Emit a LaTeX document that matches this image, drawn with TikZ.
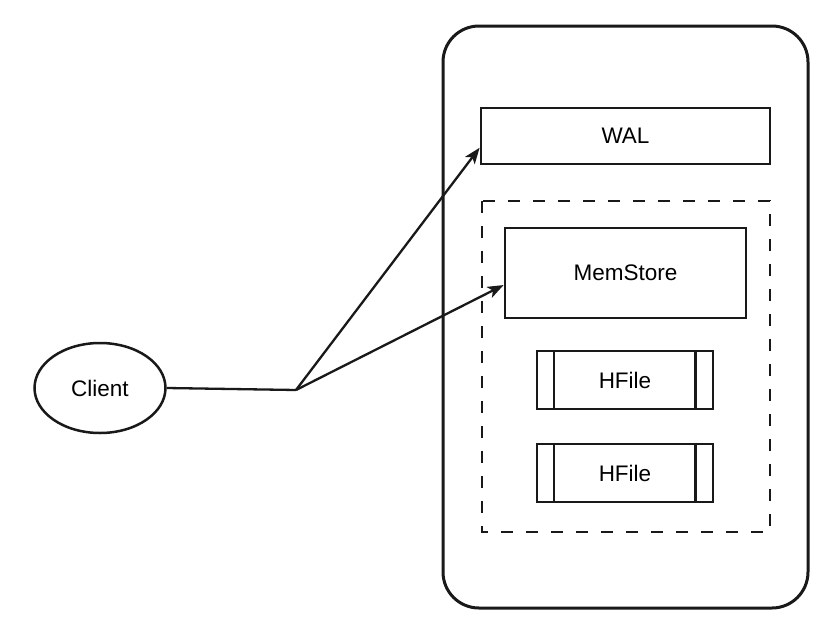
\documentclass[tikz,border=0pt]{standalone}
\usepackage{fontspec}
\setmainfont{Liberation Sans}
\usetikzlibrary{shapes.geometric,arrows.meta,calc}
\begin{document}
\begin{tikzpicture}[x=1pt,y=-1pt,
  box/.style={draw=black!90,line width=2.8pt,inner sep=0pt,font=\fontsize{22.5}{26}\selectfont},
  conn/.style={draw=black!90,line width=2.3pt},
  arr/.style={conn,-{Stealth[length=16pt,width=12pt,inset=4pt]}},
  dashbox/.style={draw=black!90,line width=2.5pt,dash pattern=on 12pt off 13pt}]
\useasboundingbox (0,0) rectangle (836,624);
\fill[white] (0,0) rectangle (836,624);
% outer server
\draw[line width=3pt,draw=black!90,rounded corners=36pt] (443,26) rectangle (808,608);
% WAL
\node[box,minimum width=289pt,minimum height=56pt] (wal) at (625.5,136) {WAL};
% dashed region
\draw[dashbox] (482,201) rectangle (770,532);
% MemStore
\node[box,minimum width=241pt,minimum height=90pt] (mem) at (625.5,273) {MemStore};
% HFiles
\node[box,line width=2.5pt,minimum width=176pt,minimum height=58pt] (hf1) at (625,380) {HFile};
\node[box,line width=2.5pt,minimum width=176pt,minimum height=58pt] (hf2) at (625,473) {HFile};
\foreach \h in {hf1,hf2}{
  \draw[conn,line width=2.5pt] ($(\h.north west)+(18,0)$) -- ($(\h.south west)+(18,0)$);
  \draw[conn,line width=2.5pt] ($(\h.north east)+(-19,0)$) -- ($(\h.south east)+(-19,0)$);
}
% Client
\node[ellipse,draw=black!90,line width=2.5pt,minimum width=131pt,minimum height=90pt,inner sep=0pt,font=\fontsize{22.5}{26}\selectfont] (client) at (100,388) {Client};
\coordinate (j) at (296,390);
\draw[conn] (client.east) -- (j);
\draw[arr] (j) -- ($(wal.south west)!0.3!(wal.north west)$);
\draw[arr] (j) -- ($(mem.south west)!0.37!(mem.north west)$);
\end{tikzpicture}
\end{document}
